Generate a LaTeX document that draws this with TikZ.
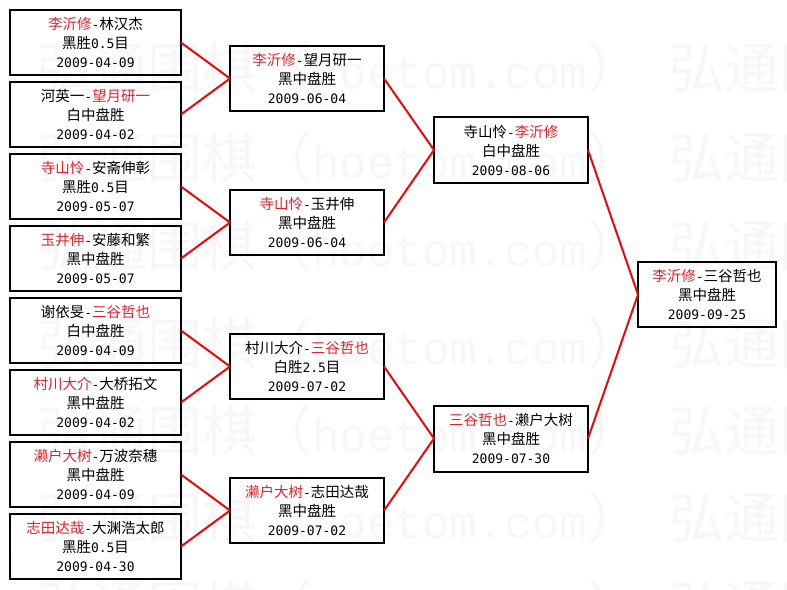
\documentclass[tikz,border=0pt]{standalone}
\usepackage{fontspec}
\setmainfont{Noto Sans CJK SC}
\newfontfamily\cjkf{Noto Sans CJK SC}
\newfontfamily\monof{DejaVu Sans Mono}
\newfontfamily\wmmonof{Liberation Mono}
\definecolor{nametext}{RGB}{225,35,45}
\definecolor{linkred}{RGB}{232,10,10}
\definecolor{wmgray}{RGB}{247,247,247}
\newcommand\rd[1]{\textcolor{nametext}{#1}}
\newcommand\mo[1]{{\monof\fontsize{13}{19}\selectfont #1}}
\newcommand\wmunit{{\cjkf 弘通围棋（}{\wmmonof\fontsize{45.8}{55}\selectfont hoetom.com}{\cjkf ）}\hspace{27.5pt}}
\begin{document}
\begin{tikzpicture}[x=1pt,y=-1pt,
  every node/.style={inner sep=0pt,outer sep=0pt},
  wm/.style={anchor=base west,text=wmgray,font=\fontsize{55}{60}\selectfont},
  gbox/.style={draw=black,line width=2pt,align=center,font=\fontsize{14.5}{19}\selectfont,minimum height=65pt},
  wa/.style={gbox,minimum width=171pt},
  wb/.style={gbox,minimum width=154pt},
  wc/.style={gbox,minimum width=154pt,minimum height=66pt},
  wd/.style={gbox,minimum width=138pt},
  link/.style={draw=linkred,line width=2pt}]
\useasboundingbox (0,0) rectangle (787,589);
\fill[white] (0,0) rectangle (787,589);
\begin{scope}
\clip (0,0) rectangle (787,589);
\node[wm] (wm1) at (-595,88) {\wmunit\wmunit\wmunit};
\node[wm] (wm2) at (-595,178) {\wmunit\wmunit\wmunit};
\node[wm] (wm3) at (-595,266) {\wmunit\wmunit\wmunit};
\node[wm] (wm4) at (-595,364) {\wmunit\wmunit\wmunit};
\node[wm] (wm5) at (-595,451) {\wmunit\wmunit\wmunit};
\node[wm] (wm6) at (-595,538) {\wmunit\wmunit\wmunit};
\node[wm] (wm7) at (-595,626) {\wmunit\wmunit\wmunit};
\end{scope}
% column 1
\node[wa] (a1) at (95.5,42.5) {\rd{李沂修}\mo{-}林汉杰\\黑胜\mo{0.5}目\\\mo{2009-04-09}};
\node[wa] (a2) at (95.5,114.5) {河英一\mo{-}\rd{望月研一}\\白中盘胜\\\mo{2009-04-02}};
\node[wa] (a3) at (95.5,186.5) {\rd{寺山怜}\mo{-}安斋伸彰\\黑胜\mo{0.5}目\\\mo{2009-05-07}};
\node[wa] (a4) at (95.5,258.5) {\rd{玉井伸}\mo{-}安藤和繁\\黑中盘胜\\\mo{2009-05-07}};
\node[wa] (a5) at (95.5,330.5) {谢依旻\mo{-}\rd{三谷哲也}\\白中盘胜\\\mo{2009-04-09}};
\node[wa] (a6) at (95.5,402.5) {\rd{村川大介}\mo{-}大桥拓文\\黑中盘胜\\\mo{2009-04-02}};
\node[wa] (a7) at (95.5,474.5) {\rd{濑户大树}\mo{-}万波奈穗\\黑中盘胜\\\mo{2009-04-09}};
\node[wa] (a8) at (95.5,546.5) {\rd{志田达哉}\mo{-}大渊浩太郎\\黑胜\mo{0.5}目\\\mo{2009-04-30}};
% column 2
\node[wb] (b1) at (307,78.5) {\rd{李沂修}\mo{-}望月研一\\黑中盘胜\\\mo{2009-06-04}};
\node[wb] (b2) at (307,222.5) {\rd{寺山怜}\mo{-}玉井伸\\黑中盘胜\\\mo{2009-06-04}};
\node[wb] (b3) at (307,366.5) {村川大介\mo{-}\rd{三谷哲也}\\白胜\mo{2.5}目\\\mo{2009-07-02}};
\node[wb] (b4) at (307,510.5) {\rd{濑户大树}\mo{-}志田达哉\\黑中盘胜\\\mo{2009-07-02}};
% column 3
\node[wc] (c1) at (511,150) {寺山怜\mo{-}\rd{李沂修}\\白中盘胜\\\mo{2009-08-06}};
\node[wc] (c2) at (511,438.5) {\rd{三谷哲也}\mo{-}濑户大树\\黑中盘胜\\\mo{2009-07-30}};
% column 4
\node[wd] (d1) at (707,294.5) {\rd{李沂修}\mo{-}三谷哲也\\黑中盘胜\\\mo{2009-09-25}};
% connectors
\draw[link] (a1.east) -- (b1.west);
\draw[link] (a2.east) -- (b1.west);
\draw[link] (a3.east) -- (b2.west);
\draw[link] (a4.east) -- (b2.west);
\draw[link] (a5.east) -- (b3.west);
\draw[link] (a6.east) -- (b3.west);
\draw[link] (a7.east) -- (b4.west);
\draw[link] (a8.east) -- (b4.west);
\draw[link] (b1.east) -- (c1.west);
\draw[link] (b2.east) -- (c1.west);
\draw[link] (b3.east) -- (c2.west);
\draw[link] (b4.east) -- (c2.west);
\draw[link] (c1.east) -- (d1.west);
\draw[link] (c2.east) -- (d1.west);
\end{tikzpicture}
\end{document}
